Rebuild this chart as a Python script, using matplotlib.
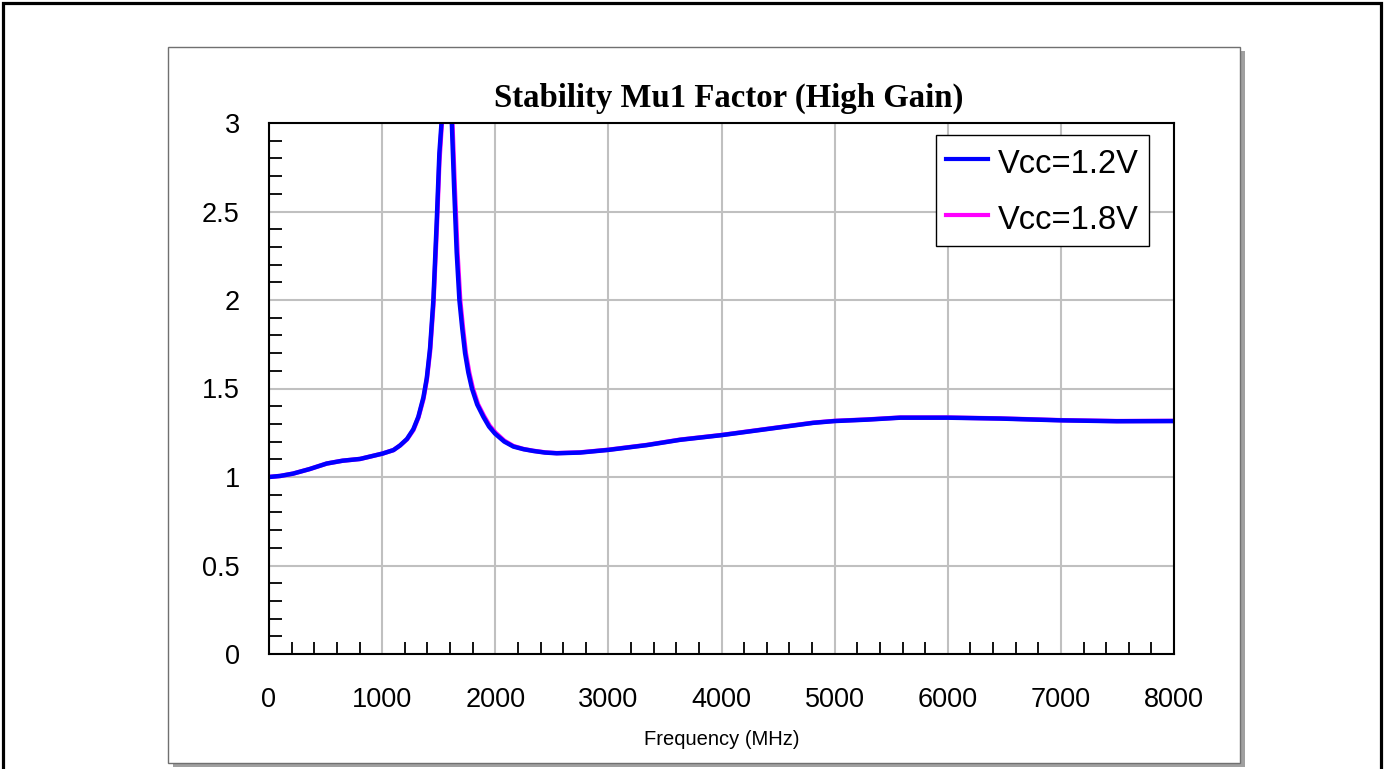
import matplotlib.pyplot as plt
from matplotlib.patches import Rectangle
from matplotlib.ticker import MultipleLocator

plt.switch_backend('Agg')
plt.rcParams['font.family'] = ['Liberation Sans', 'DejaVu Sans']

# frequency (MHz) and Mu1 readings, Vcc=1.2V
freq_12 = [0, 100, 212, 360, 510, 650, 805, 1002, 1100, 1158, 1220, 1276, 1320,
           1365, 1395, 1424, 1453, 1483, 1506, 1527, 1550, 1571, 1593, 1615, 1636,
           1659, 1683, 1708, 1733, 1762, 1794, 1840, 1895, 1945, 1998, 2080, 2160,
           2250, 2337, 2440, 2543, 2750, 3000, 3339, 3634, 3996, 4370, 4813, 5000,
           5286, 5580, 6000, 6463, 7000, 7495, 8000]
mu_12 = [1.0, 1.006, 1.019, 1.045, 1.076, 1.092, 1.102, 1.132, 1.152, 1.178, 1.215,
         1.27, 1.34, 1.45, 1.56, 1.73, 2.0, 2.45, 2.83, 3.02, 4.2, 6.0, 4.2, 3.02,
         2.64, 2.27, 2.0, 1.84, 1.70, 1.59, 1.50, 1.41, 1.34, 1.285, 1.245, 1.20,
         1.172, 1.157, 1.147, 1.138, 1.134, 1.138, 1.153, 1.18, 1.21, 1.236, 1.268,
         1.306, 1.316, 1.324, 1.335, 1.335, 1.33, 1.32, 1.315, 1.316]

# Vcc=1.8V, almost on top of the 1.2V curve, peak a touch to the right
freq_18 = [0, 100, 212, 360, 510, 650, 805, 1002, 1100, 1158, 1220, 1276, 1320,
           1365, 1395, 1424, 1453, 1483, 1506, 1530, 1555, 1576, 1598, 1620, 1642,
           1666, 1690, 1715, 1740, 1770, 1802, 1848, 1900, 1950, 2003, 2080, 2160,
           2250, 2337, 2440, 2543, 2750, 3000, 3339, 3634, 3996, 4370, 4813, 5000,
           5286, 5580, 6000, 6463, 7000, 7495, 8000]
mu_18 = [1.0, 1.006, 1.019, 1.045, 1.076, 1.092, 1.102, 1.132, 1.152, 1.178, 1.213,
         1.265, 1.335, 1.44, 1.55, 1.71, 1.97, 2.40, 2.78, 3.02, 4.2, 6.0, 4.2, 3.02,
         2.64, 2.27, 2.0, 1.84, 1.70, 1.59, 1.50, 1.41, 1.345, 1.29, 1.25, 1.205,
         1.175, 1.158, 1.148, 1.139, 1.135, 1.139, 1.154, 1.181, 1.211, 1.237, 1.269,
         1.307, 1.317, 1.325, 1.336, 1.336, 1.331, 1.321, 1.316, 1.317]

labels = ['Vcc=1.2V', 'Vcc=1.8V']
x_ticks = [0, 1000, 2000, 3000, 4000, 5000, 6000, 7000, 8000]
y_ticks = [0, 0.5, 1, 1.5, 2, 2.5, 3]
y_tick_labels = ['0', '0.5', '1', '1.5', '2', '2.5', '3']

W, H = 1384, 769
fig = plt.figure(figsize=(W / 100, H / 100), dpi=100)

# outer black frame
fig.patches.append(Rectangle((3 / W, -0.02), 1378 / W, 1.02 - 3 / H, fill=False,
                             edgecolor='black', linewidth=2.3, transform=fig.transFigure))
# chart panel with drop shadow
px, py, pw, ph = 168 / W, 1 - 763 / H, (1240 - 168) / W, (763 - 47) / H
fig.patches.append(Rectangle((px + 5 / W, py - 4 / H), pw, ph, facecolor='#a0a0a0',
                             edgecolor='none', transform=fig.transFigure))
fig.patches.append(Rectangle((px, py), pw, ph, facecolor='white',
                             edgecolor='#707070', linewidth=1, transform=fig.transFigure))

ax = fig.add_axes([269 / W, 1 - 654 / H, (1174 - 269) / W, (654 - 123) / H])
ax.set_zorder(2)

l18, = ax.plot(freq_18, mu_18, color='#ff00ff', linewidth=3.2)
l12, = ax.plot(freq_12, mu_12, color='#0000ff', linewidth=3.2)

ax.set_xlim(0, 8000)
ax.set_ylim(0, 3)
ax.set_xticks(x_ticks)
ax.set_yticks(y_ticks, y_tick_labels)
ax.xaxis.set_minor_locator(MultipleLocator(200))
ax.yaxis.set_minor_locator(MultipleLocator(0.1))
ax.tick_params(which='major', length=0, labelsize=19.5)
ax.tick_params(axis='x', which='major', pad=24)
ax.tick_params(axis='y', which='major', pad=21)
ax.tick_params(which='minor', direction='in', length=9, width=1.3, color='black')
ax.tick_params(axis='x', which='minor', top=False)
ax.tick_params(axis='y', which='minor', right=False)
ax.grid(which='major', color='#c0c0c0', linewidth=1.5)
ax.set_axisbelow(True)
for s in ax.spines.values():
    s.set_linewidth(1.5)

ax.set_xlabel('Frequency (MHz)', fontsize=14.5, labelpad=12)
fig.text(729 / W, 1 - 107 / H, 'Stability Mu1 Factor (High Gain)', ha='center',
         va='baseline', fontsize=23.6, fontweight='bold', family=['Liberation Serif'])

leg = ax.legend([l12, l18], labels, loc='upper left',
                bbox_to_anchor=(936 / W, 1 - 135 / H), bbox_transform=fig.transFigure,
                fancybox=False, edgecolor='black', framealpha=1, borderaxespad=0,
                fontsize=23.5, handlelength=1.29, handleheight=1.27,
                handletextpad=0.31, labelspacing=0.63, borderpad=0.3)
leg.get_frame().set_linewidth(1)
for h in leg.get_lines():
    h.set_linewidth(3)

# legend shadow
fig.canvas.draw()
bb = leg.get_window_extent().transformed(fig.transFigure.inverted())
fig.patches.append(Rectangle((bb.x0 + 5 / W, bb.y0 - 5 / H), bb.width, bb.height,
                             facecolor='#808080', edgecolor='none',
                             transform=fig.transFigure, zorder=1.5))

plt.savefig('out.png', dpi=100)
